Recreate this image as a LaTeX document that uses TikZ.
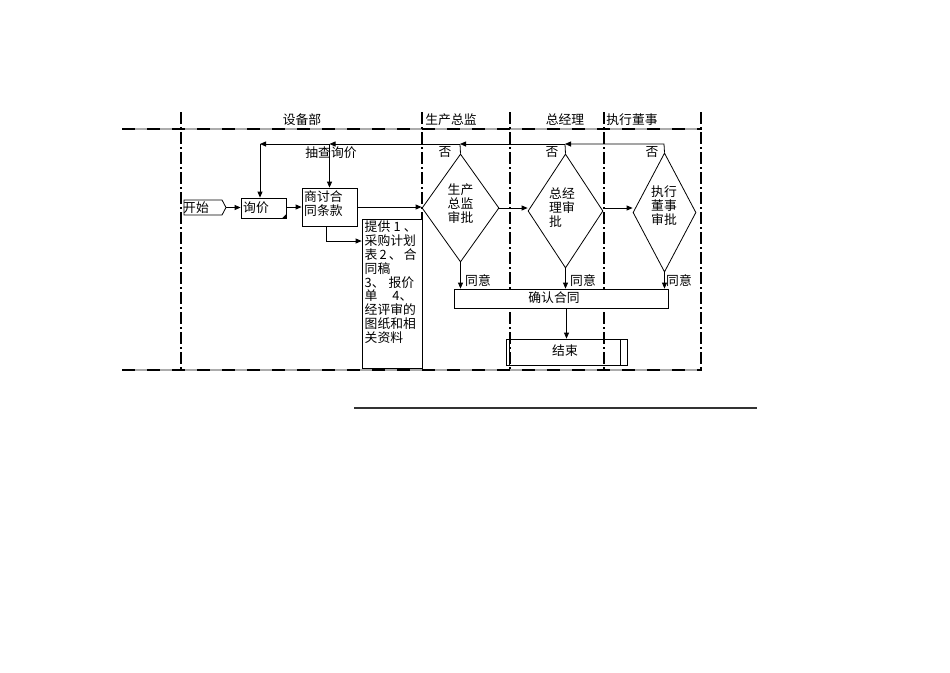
\documentclass[tikz,border=0pt]{standalone}
\usepackage{fontspec}
\setmainfont{Noto Sans CJK SC}
\usetikzlibrary{arrows.meta,shapes.geometric,shapes.symbols}
\begin{document}
\begin{tikzpicture}[x=1pt,y=-1pt,
  every node/.style={font=\fontsize{12.8}{14}\selectfont},
  lanev/.style={line width=1.6pt,dash pattern=on 12pt off 3pt on 2pt off 3pt},
  laneh/.style={line width=1.8pt,dash pattern=on 13pt off 12pt},
  laneg/.style={line width=1.6pt,gray!65},
  box/.style={draw,line width=0.8pt,inner sep=0pt},
  dia/.style={diamond,draw,line width=0.8pt,inner sep=0pt},
  arr/.style={line width=0.8pt,-{Triangle[length=6pt,width=5pt]}},
  ln/.style={line width=0.8pt},
  txt/.style={inner sep=0pt}]
\path[use as bounding box] (0,0) rectangle (950,672);
% lanes
\draw[laneg] (122,129) -- (702,129);
\draw[laneh] (122,129) -- (702,129);
\draw[laneg] (122,370) -- (702,370);
\draw[laneh] (122,370) -- (702,370);
\foreach \x in {181,422,510,604,701}{\draw[lanev] (\x,112) -- (\x,370);}
\node[txt] (h1) at (302,120) {设备部};
\node[txt] (h2) at (451,120) {生产总监};
\node[txt] (h3) at (565,120) {总经理};
\node[txt] (h4) at (632,120) {执行董事};
% nodes
\node[signal,signal to=east,signal pointer angle=124,draw,line width=0.8pt,
  minimum width=42pt,minimum height=15pt,inner sep=1pt,fill=white] (start) at (203,207.5) {};
\node[txt,anchor=west] (starttxt) at (183,207.5) {开始};
\node[box,minimum width=45pt,minimum height=20pt,fill=white] (xunjia) at (263.5,208) {};
\node[txt,anchor=west] (xunjiatxt) at (243,208) {询价};
\draw[ln,fill=black] (283,218) -- (286,215) -- (286,218) -- cycle;
\node[box,minimum width=55pt,minimum height=38pt,fill=white] (shangtao) at (329.5,207) {};
\node[txt,anchor=north west,align=left] (shangtaotxt) at (304,190) {商讨合\\同条款};
\node[box,minimum width=60pt,minimum height=149pt,fill=white] (tigong) at (392,293.5) {};
\node[txt,anchor=north west,align=left,font=\fontsize{12.8}{13.9}\selectfont] (tigongtxt) at (364.5,220.5)
 {\makebox[52pt][s]{提供\hfil 1\hfil 、}\\
  \makebox[52pt][s]{采购计划}\\
  \makebox[52pt][s]{表\hfil 2\hfil 、\hfil 合}\\
  同稿\\
  3、\hspace{4pt}报价\\
  单\hspace{15pt}4、\\
  \makebox[52pt][s]{经评审的}\\
  \makebox[52pt][s]{图纸和相}\\
  关资料};
\node[dia,minimum width=77pt,minimum height=108pt] (d1) at (460.5,208) {};
\node[txt,align=center] (d1t) at (460.5,204) {生产\\总监\\审批};
\node[dia,minimum width=75pt,minimum height=114pt] (d2) at (565.5,211) {};
\node[txt,align=left] (d2t) at (562,208) {总经\\理审\\批};
\node[dia,minimum width=63pt,minimum height=119pt] (d3) at (664.5,212.5) {};
\node[txt,align=center] (d3t) at (664,206) {执行\\董事\\审批};
\node[box,minimum width=214pt,minimum height=19pt,fill=white] (confirm) at (561,298.5) {};
\node[txt] (confirmtxt) at (554,298) {确认合同};
\node[box,minimum width=121pt,minimum height=26pt] (end) at (566.5,352) {};
\draw[ln] (509,339) -- (509,365);
\draw[ln] (620,339) -- (620,365);
\node[txt] (endtxt) at (565,351) {结束};
% main flow
\draw[arr] (start.east) -- (xunjia.west |- start.east);
\draw[arr] (xunjia.east |- shangtao.west) -- (shangtao.west);
\draw[arr] (shangtao.east) -- (shangtao.east -| d1.west);
\draw[arr] (d1.east) -- (d1.east -| d2.west);
\draw[arr] (d1.east -| d2.east) -- (d1.east -| d3.west);
\coordinate (tg) at (326,241);
\draw[arr] (shangtao.south -| tg) -- (tg) -- (tg -| tigong.west);
% agree
\draw[arr] (d1.south) -- (d1.south |- confirm.north);
\draw[arr] (d2.south) -- (d2.south |- confirm.north);
\draw[arr] (d3.south) -- (d3.south |- confirm.north);
\node[txt] (ag1) at (478,281) {同意};
\node[txt] (ag2) at (583,281) {同意};
\node[txt] (ag3) at (679,281) {同意};
\draw[arr] (end.north |- confirm.south) -- (end.north);
% feedback
\coordinate (f3) at (664,144);
\coordinate (f2) at (565,144);
\coordinate (f1) at (460,144);
\coordinate (fs) at (329.5,144);
\coordinate (fx) at (260,144);
\draw[arr] (d3.north) -- (f3) -- (f2);
\draw[ln] (d2.north) -- (f2);
\draw[arr] (f2) -- (f1);
\draw[ln] (d1.north) -- (f1);
\draw[arr] (f1) -- (fs);
\draw[arr] (fs) -- (shangtao.north);
\draw[arr] (fs) -- (fx);
\draw[arr] (fx) -- (fx |- xunjia.north);
\node[txt] (no1) at (445,152) {否};
\node[txt] (no2) at (552,152) {否};
\node[txt] (no3) at (652,152) {否};
\node[txt] (chk) at (331,152.5) {抽查询价};
% footer line
\coordinate (fl1) at (354,408);
\coordinate (fl2) at (757,408);
\draw[line width=1.2pt,black!80] (fl1) -- (fl2);
\end{tikzpicture}
\end{document}
